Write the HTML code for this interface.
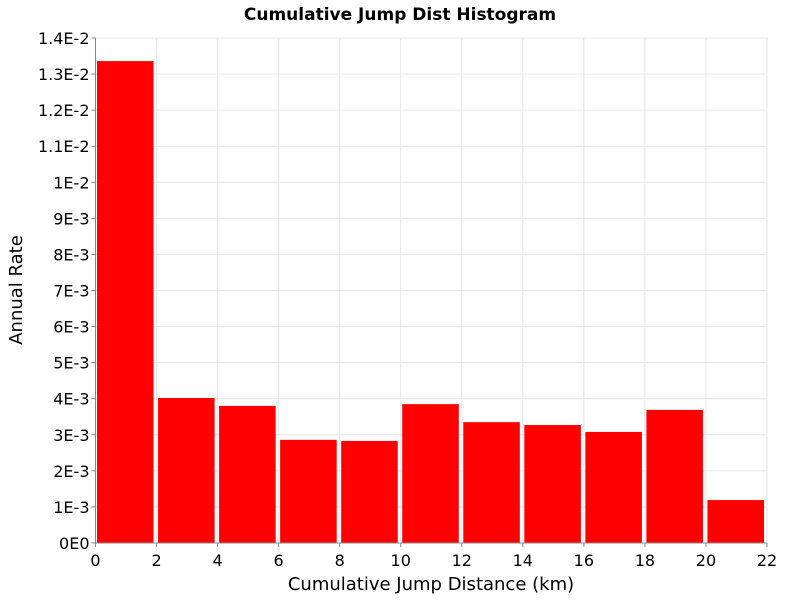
<!DOCTYPE html>
<html><head><meta charset="utf-8"><style>
body{margin:0;background:#fff;font-family:"Liberation Sans","DejaVu Sans",sans-serif}
svg text{font-family:"DejaVu Sans","Liberation Sans",sans-serif}
</style></head><body>
<svg id="chart" width="800" height="600" xmlns="http://www.w3.org/2000/svg">
<text x="400" y="20" text-anchor="middle" font-size="17" font-weight="bold">Cumulative Jump Dist Histogram</text>
<rect x="95.5" y="38" width="671.5" height="505" fill="#fff" stroke="#aaa" stroke-width="1"/>
<g id="grid"></g><g id="bars"></g><g id="axes"></g>
<text x="431" y="590" text-anchor="middle" font-size="18">Cumulative Jump Distance (km)</text>
<text transform="translate(22,290) rotate(-90)" text-anchor="middle" font-size="18">Annual Rate</text>
</svg>
<script>
const binStarts=[0,2,4,6,8,10,12,14,16,18,20];
const binWidth=2;
const rates=[0.01336,0.00402,0.00380,0.00286,0.00283,0.00385,0.00335,0.00327,0.00308,0.00369,0.00119];
const xTicks=[0,2,4,6,8,10,12,14,16,18,20,22];
const yTicks=[0,0.001,0.002,0.003,0.004,0.005,0.006,0.007,0.008,0.009,0.01,0.011,0.012,0.013,0.014];
const yTickLabels=["0E0","1E-3","2E-3","3E-3","4E-3","5E-3","6E-3","7E-3","8E-3","9E-3","1E-2","1.1E-2","1.2E-2","1.3E-2","1.4E-2"];
const NS="http://www.w3.org/2000/svg";
const X0=95.5,X1=767,Y0=543,Y1=38;
const xs=v=>X0+(v-0)/(22-0)*(X1-X0);
const ys=v=>Y0-(v/0.014)*(Y0-Y1);
const grid=document.getElementById('grid'),bars=document.getElementById('bars'),axes=document.getElementById('axes');
function mk(tag,attrs,parent){const e=document.createElementNS(NS,tag);for(const k in attrs)e.setAttribute(k,attrs[k]);parent.appendChild(e);return e;}
xTicks.forEach(t=>{
  const g=mk('line',{x1:xs(t),x2:xs(t),y1:Y1,y2:Y0,stroke:'#e6e6e6','stroke-width':1},grid);
  
  
  const tk=mk('line',{x1:xs(t),x2:xs(t),y1:Y0,y2:Y0+4,stroke:'#888'},axes);
  
  
  const tx=mk('text',{x:xs(t),y:566,'text-anchor':'middle','font-size':16},axes);
  tx.textContent=t;
  
  
});
yTicks.forEach((t,i)=>{
  const g=mk('line',{x1:X0,x2:X1,y1:ys(t),y2:ys(t),stroke:'#e6e6e6','stroke-width':1},grid);
  
  
  const tk=mk('line',{x1:X0-4,x2:X0,y1:ys(t),y2:ys(t),stroke:'#888'},axes);
  
  
  const tx=mk('text',{x:X0-6,y:ys(t)+6,'text-anchor':'end','font-size':16},axes);
  tx.textContent=yTickLabels[i];
  
  
});
binStarts.forEach((s,i)=>{
  const l=xs(s)+1.5,r=xs(s+binWidth)-3;
  const b=mk('rect',{x:l,y:ys(rates[i]),width:r-l,height:Y0-ys(rates[i]),fill:'#ff0000'},bars);
  
  
});
mk('line',{x1:X0,x2:X0,y1:Y1,y2:Y0,stroke:'#888'},axes);
mk('line',{x1:X0,x2:X1,y1:Y0,y2:Y0,stroke:'#888'},axes);
</script>
</body></html>
